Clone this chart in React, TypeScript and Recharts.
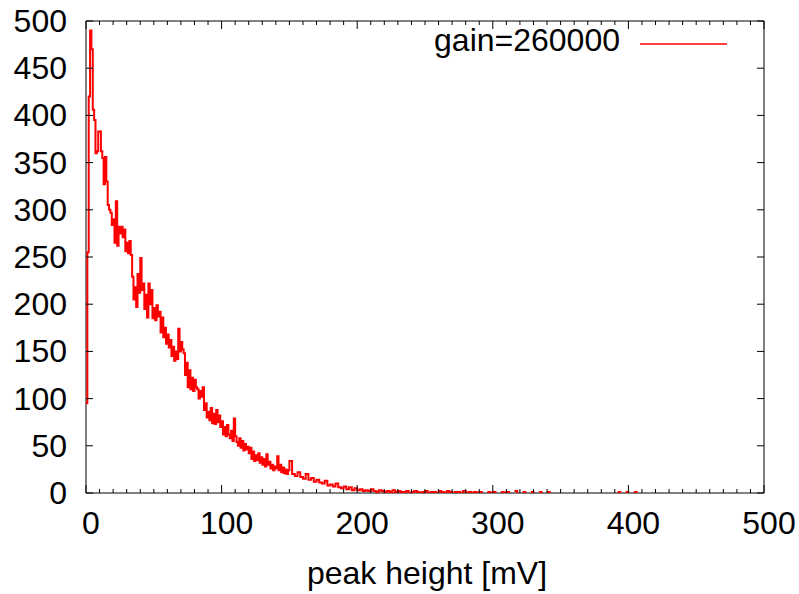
import { LineChart, Line, XAxis, YAxis, ReferenceArea } from "recharts";

// 1 mV bins, 0..149 mV
const fineCounts = [
  95, 255, 420, 490, 470, 406, 395, 360, 362, 383,
  383, 362, 355, 327, 356, 330, 305, 300, 297, 284,
  290, 265, 309, 262, 282, 275, 282, 271, 279, 256,
  265, 254, 267, 252, 229, 205, 218, 197, 232, 212,
  249, 215, 222, 195, 210, 186, 222, 200, 215, 185,
  196, 183, 199, 187, 192, 170, 186, 165, 175, 158,
  168, 154, 162, 145, 155, 140, 150, 142, 174, 150,
  160, 152, 148, 125, 138, 112, 130, 110, 122, 108,
  120, 112, 110, 100, 108, 102, 112, 88, 95, 80,
  86, 77, 90, 74, 84, 73, 88, 75, 82, 70,
  76, 62, 70, 60, 72, 62, 58, 66, 55, 79,
  60, 54, 50, 58, 48, 55, 45, 52, 46, 49,
  42, 48, 36, 44, 34, 40, 35, 42, 32, 38,
  30, 36, 28, 41, 30, 33, 26, 30, 24, 28,
  26, 39, 24, 30, 22, 27, 21, 25, 20, 24,
];
// 2 mV bins, 150..260 mV
const mainCounts = [
  34, 20, 18, 22, 17, 15, 20, 14, 16, 12,
  14, 11, 10, 13, 8, 9, 7, 10, 6, 5,
  7, 4, 6, 3, 5, 3, 4, 2, 3, 2,
  4, 2, 1, 3, 2, 1, 2, 1, 3, 1,
  2, 1, 1, 2, 0, 1, 2, 1, 0, 1,
  2, 0, 1, 1, 0, 2,
];
// 2 mV bins, 262..418 mV (null = empty bin, not drawn)
const tailCounts = [
  1, 0, 2, 1, 0, 1, 1, 0, 2, 0,
  1, 0, 1, 0, 1, 0, null, 1, 0, 1,
  0, null, 1, 0, 1, 0, null, 2, 0, null,
  1, 0, null, 1, 0, null, 1, 0, null, 1,
  0, null, null, null, null, null, null, null, null, null,
  null, null, null, null, null, null, null, null, null, null,
  null, null, null, null, null, 1, 0, null, 1, 0,
  null, 1, 0, null, null, null, null, null, null,
];

const xTicks = Array.from({ length: 51 }, (_, i) => i * 10);
const yTicks = [0, 50, 100, 150, 200, 250, 300, 350, 400, 450, 500];
const seriesName = "gain=260000";
const xLabel = "peak height [mV]";

const FONT = "'Liberation Sans', Arial, sans-serif";
const PLOT_W = 678;
const PLOT_H = 472;

const data = [
  ...fineCounts.map((c, i) => ({ x: i, count: c })),
  ...mainCounts.map((c, i) => ({ x: 150 + i * 2, count: c })),
  ...tailCounts.map((c, i) => ({ x: 262 + i * 2, count: c })),
];

const XTick = (props: any) => {
  const { x, y, payload } = props;
  const major = payload.value % 100 === 0;
  const len = major ? 8 : 4;
  return (
    <g>
      <line x1={x} y1={y} x2={x} y2={y - len} stroke="#000" />
      <line x1={x} y1={y - PLOT_H} x2={x} y2={y - PLOT_H + len} stroke="#000" />
      {major && (
        <text x={x + 5} y={y + 41} textAnchor="middle" fontSize={32} fontFamily={FONT} fill="#000">
          {payload.value}
        </text>
      )}
    </g>
  );
};

const YTick = (props: any) => {
  const { x, y, payload } = props;
  return (
    <g>
      <line x1={x} y1={y} x2={x + 7} y2={y} stroke="#000" />
      <line x1={x + PLOT_W} y1={y} x2={x + PLOT_W - 7} y2={y} stroke="#000" />
      <text x={x - 19} y={y + 11} textAnchor="end" fontSize={32} fontFamily={FONT} fill="#000">
        {payload.value}
      </text>
    </g>
  );
};

export default function App() {
  return (
    <div style={{ position: "absolute", left: 0, top: 0, width: 799, height: 594, background: "#fff" }}>
      <LineChart
        width={799}
        height={594}
        data={data}
        margin={{ top: 21, right: 35, bottom: 0, left: 0 }}
      >
        <XAxis
          dataKey="x"
          type="number"
          domain={[0, 500]}
          ticks={xTicks}
          interval={0}
          allowDataOverflow
          axisLine={false}
          tickLine={false}
          tickSize={0}
          tickMargin={0}
          height={101}
          tick={<XTick />}
          label={{
            value: xLabel,
            position: "insideBottom",
            offset: 10,
            dx: 2,
            fontSize: 32,
            fontFamily: FONT,
            fill: "#000",
          }}
        />
        <YAxis
          type="number"
          domain={[0, 500]}
          ticks={yTicks}
          interval={0}
          allowDataOverflow
          axisLine={false}
          tickLine={false}
          tickSize={0}
          tickMargin={0}
          width={86}
          tick={<YTick />}
        />
        <ReferenceArea x1={0} x2={500} y1={0} y2={500} fill="none" stroke="#000" strokeWidth={1} />
        <Line
          type="stepAfter"
          dataKey="count"
          name={seriesName}
          stroke="#ff0000"
          strokeWidth={2}
          dot={false}
          connectNulls={false}
          isAnimationActive={false}
        />
      </LineChart>
      <span
        style={{
          position: "absolute",
          right: 799 - 620,
          top: 22,
          fontSize: 32,
          fontFamily: FONT,
          lineHeight: "36px",
          color: "#000",
          whiteSpace: "nowrap",
        }}
      >
        {seriesName}
      </span>
      <svg style={{ position: "absolute", left: 640, top: 38 }} width={88} height={12}>
        <line x1={0} y1={6} x2={87} y2={6} stroke="#ff0000" strokeWidth={1.5} />
      </svg>
    </div>
  );
}
